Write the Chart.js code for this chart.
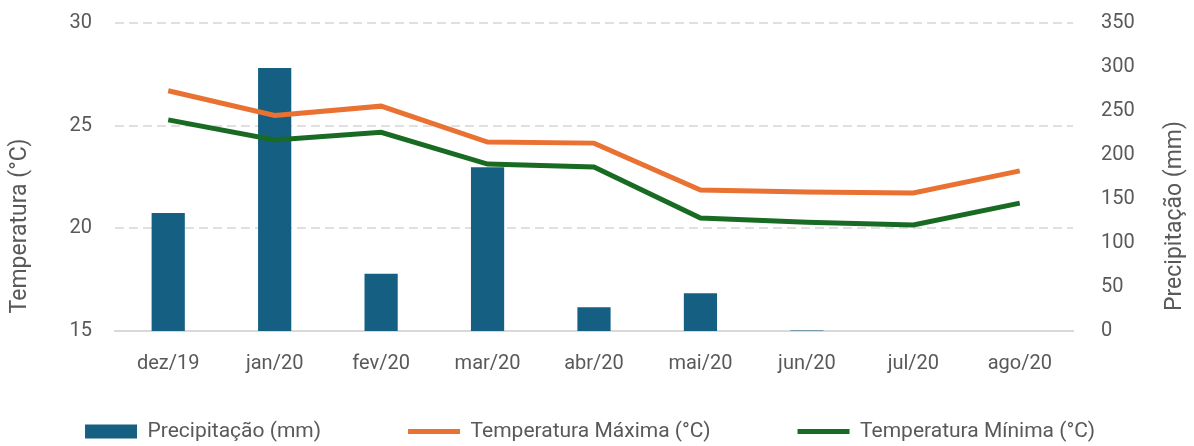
<!DOCTYPE html>
<html lang="pt">
<head>
  <meta charset="UTF-8" />
  <title>Precipitação e Temperatura</title>
  <script src="https://cdn.jsdelivr.net/npm/chart.js"></script>
  <style>
    html, body { margin: 0; padding: 0; background: #fff; }
    #wrap { width: 1194px; height: 446px; }
  </style>
</head>
<body>
  <div id="wrap"><canvas id="chart"></canvas></div>
  <script>
    // data
    const months = ['dez/19', 'jan/20', 'fev/20', 'mar/20', 'abr/20', 'mai/20', 'jun/20', 'jul/20', 'ago/20'];
    const precip = [134, 299, 65, 186, 27, 43, 0.6, 0, 0];
    const tempMax = [26.7, 25.5, 25.95, 24.2, 24.15, 21.87, 21.77, 21.72, 22.8];
    const tempMin = [25.28, 24.3, 24.68, 23.13, 22.99, 20.5, 20.3, 20.16, 21.23];

    const textColor = '#595959';
    const family = 'Roboto, "Liberation Sans", sans-serif';
    const font = { family: family, size: 20 };
    const legendGap = 87;

    // axis titles drawn by hand so the right one reads bottom-to-top like the original
    const axisTitles = {
      id: 'axisTitles',
      afterDraw(chart) {
        const ctx = chart.ctx;
        ctx.save();
        ctx.fillStyle = textColor;
        ctx.font = '23px ' + family;
        ctx.textAlign = 'center';
        ctx.textBaseline = 'middle';
        [['Temperatura (°C)', 20, 226], ['Precipitação (mm)', 1175, 216]].forEach(([t, x, y]) => {
          ctx.save();
          ctx.translate(x, y);
          ctx.rotate(-Math.PI / 2);
          ctx.fillText(t, 0, 0);
          ctx.restore();
        });
        ctx.restore();
      }
    };

    const fitY = w => s => { s.width = w; s.paddingTop = 0; s.paddingBottom = 0; };

    const chart = new Chart(document.getElementById('chart'), {
      data: {
        labels: months,
        datasets: [
          {
            type: 'bar',
            label: 'Precipitação (mm)',
            data: precip,
            yAxisID: 'yR',
            backgroundColor: '#156082',
            barPercentage: 0.39,
            categoryPercentage: 0.8,
            pointStyle: 'rect',
            order: 2
          },
          {
            type: 'line',
            label: 'Temperatura Máxima (°C)',
            data: tempMax,
            yAxisID: 'y',
            borderColor: '#E97132',
            backgroundColor: '#E97132',
            borderWidth: 5,
            pointRadius: 0,
            tension: 0,
            pointStyle: 'line',
            order: 1
          },
          {
            type: 'line',
            label: 'Temperatura Mínima (°C)',
            data: tempMin,
            yAxisID: 'y',
            borderColor: '#196B24',
            backgroundColor: '#196B24',
            borderWidth: 5,
            pointRadius: 0,
            tension: 0,
            pointStyle: 'line',
            order: 0
          }
        ]
      },
      options: {
        responsive: true,
        maintainAspectRatio: false,
        animation: false,
        layout: { padding: { left: 8, right: 8, top: 23, bottom: 0 } },
        plugins: {
          tooltip: { enabled: false },
          legend: {
            position: 'bottom',
            labels: {
              color: textColor,
              font: { family: family, size: 21 },
              usePointStyle: true,
              pointStyleWidth: 52,
              boxHeight: 14,
              padding: legendGap,
              sort: (a, b) => a.datasetIndex - b.datasetIndex
            }
          }
        },
        scales: {
          x: {
            grid: { display: false },
            border: { display: true, color: '#d9d9d9', width: 2 },
            ticks: { color: textColor, font: font, padding: 13 },
            afterFit: s => { s.height = 48; }
          },
          y: {
            position: 'left',
            min: 15,
            max: 30,
            ticks: { stepSize: 5, color: textColor, font: font, padding: 23 },
            grid: { color: '#e0e0e0', lineWidth: 2, drawTicks: false },
            border: { display: false, dash: [9, 5] },
            afterFit: fitY(107)
          },
          yR: {
            position: 'right',
            min: 0,
            max: 350,
            ticks: { stepSize: 50, color: textColor, font: font, padding: 20 },
            grid: { display: false },
            border: { display: false },
            afterFit: fitY(113)
          }
        }
      },
      plugins: [axisTitles]
    });

    // wide gaps between legend items on one row, in a short legend box sitting low
    const lg = chart.legend;
    const fitLegend = lg.fit.bind(lg);
    const drawLegend = lg.draw.bind(lg);
    lg.fit = function () {
      const mw = this.maxWidth;
      this.maxWidth = 3000;
      fitLegend();
      this.maxWidth = mw;
      this.width = mw;
      this.height = 67;
    };
    lg.draw = function () {
      const top = this.top, left = this.left, right = this.right;
      this.top = top - (legendGap - 42);
      this.left = left - 34;
      this.right = right + 20;
      drawLegend();
      this.top = top;
      this.left = left;
      this.right = right;
    };
    chart.update();
  </script>
</body>
</html>
